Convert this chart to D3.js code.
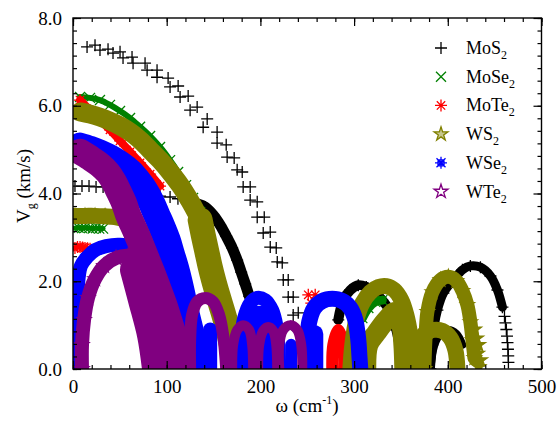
<!DOCTYPE html>
<html>
<head>
<meta charset="utf-8">
<script src="https://cdn.jsdelivr.net/npm/d3@7"></script>
<style>
body { margin: 0; background: #fff; }
</style>
</head>
<body>
<script>
// axis ticks
var xTicks = [0, 100, 200, 300, 400, 500];
var yTicks = [0, 2, 4, 6, 8];
var legendNames = ["MoS2", "MoSe2", "MoTe2", "WS2", "WSe2", "WTe2"];

// ---- MoS2 (omega cm-1, Vg km/s) ----
var mos2LAa = [[15.0,7.34],[28.8,7.27],[42.7,7.2],[53.4,7.09],[64.1,6.97],[79.1,6.81],[89.7,6.65],[103.6,6.43],[114.3,6.2],[125.0,5.9],[138.9,5.51],[153.8,5.15],[164.5,4.83],[175.2,4.54],[181.6,4.15],[189.1,3.85],[196.6,3.46],[203.0,3.1],[210.5,2.78],[218.0,2.44],[224.4,2.03],[229.7,1.64],[235.0,1.23],[239.3,0.89]];
var mos2LAb = [[23.5,7.38],[37.4,7.29],[50.2,7.23],[63.0,7.11],[76.9,6.97],[89.7,6.81],[101.5,6.63],[112.2,6.45],[122.9,6.22],[132.5,5.97],[143.2,5.7],[153.8,5.4],[163.5,5.11],[172.0,4.81],[180.6,4.49],[189.1,4.15],[196.6,3.81],[204.1,3.46],[210.5,3.12],[216.9,2.76],[223.3,2.42],[229.7,2.03],[235.0,1.64],[240.4,1.28],[244.7,0.93]];
var mos2TA = [[2.1,4.17],[9.6,4.17],[17.1,4.17],[24.6,4.15],[32.1,4.15],[39.5,4.15],[47.0,4.13],[54.5,4.01],[62.0,3.9],[71.6,3.92],[82.3,3.97],[92.9,3.94],[103.6,3.92],[112.0,3.88]];
var mos2TAband = [[119.7,3.85],[130.3,3.78],[141.0,3.69],[149.6,3.51],[157.1,3.28],[163.5,3.03],[169.9,2.76],[175.2,2.48],[179.5,2.21],[183.8,1.94],[188.0,1.66]];
var mos2Opt1 = [[283.1,1.12],[288.5,1.57],[296.0,1.8],[304.5,1.91],[313.0,1.87],[321.6,1.75],[330.1,1.57],[338.7,1.3],[345.1,0.89],[349.4,0.43]];
var mos2Opt2 = [[381.4,0],[383.5,0.55],[385.7,1.0],[388.9,1.34],[395.3,1.73],[406.0,2.03],[415.6,2.26],[424.1,2.35],[434.8,2.32],[445.5,2.12],[453.0,1.8],[458.3,1.41]];
var mos2Opt2leg = [[460.5,1.2],[461.5,1.05],[462.5,0.9],[463.2,0.75],[463.7,0.6],[464.2,0.45],[464.5,0.3],[464.7,0.15]];
var mos2Opt3 = [[381.4,0],[385.7,0.55],[392.1,0.8],[400.6,0.89],[409.2,0.8],[415.6,0.55]];

// ---- MoSe2 ----
var mose2LA = [[7.5,6.2],[18.2,6.18],[28.8,6.13],[39.5,6.02],[50.2,5.88],[60.9,5.72],[71.6,5.52],[82.3,5.31],[92.9,5.06],[103.6,4.76],[112.2,4.49],[120.7,4.19],[128.2,3.9],[135.7,3.58],[142.1,3.21],[147.4,2.83],[151.7,2.44],[156.0,2.03],[160.3,1.62],[163.5,1.23],[166.7,0.84],[169.9,0.43]];
var mose2TA = [[2.1,3.21],[6.0,3.22],[9.6,3.21],[13.0,3.22],[17.1,3.21],[21.0,3.2],[24.6,3.21],[28.0,3.2],[32.1,3.2]];
var mose2Opt1 = [[308.8,1.16],[315.2,1.39],[322.6,1.53],[330.1,1.57]];
var mose2Opt2 = [[191.2,1.16],[195.5,1.25]];

// ---- MoTe2 ----
var mote2LA = [[7.5,6.13],[18.2,5.9],[28.8,5.67],[39.5,5.45],[50.2,5.2],[60.9,4.95],[71.6,4.7],[82.3,4.44],[92.9,4.17]];
var mote2TA = [[2.1,2.76],[4.8,2.78],[7.5,2.78],[10.2,2.77],[12.8,2.76],[15.5,2.75],[18.2,2.74]];
var mote2Low = [[87.6,0.39],[89.7,0.2],[88.7,0.07]];
var mote2Cluster = [[251.1,1.69],[258.5,1.69],[254.3,1.5],[261.8,1.46],[255.3,1.3],[254.5,1.15]];
var mote2Hump = [[276.7,0],[277.8,0.55],[283.1,0.89],[288.5,0.55],[289.5,0]];

// ---- WS2 ----
var ws2LAtop = [[7.5,5.86],[18.2,5.81],[28.8,5.74],[39.5,5.65],[50.2,5.54],[60.9,5.4],[71.6,5.22],[82.3,4.99],[92.9,4.76],[103.6,4.49],[114.3,4.19],[122.9,3.9],[130.3,3.62],[135.7,3.4],[141.0,3.05]];
var ws2LAlow = [[135.7,3.4],[139.0,3.05],[142.5,2.71],[146.0,2.37],[150.0,2.03],[154.5,1.69],[160.0,1.3],[165.0,0.93],[169.0,0.55],[171.5,0.21]];
var ws2TA = [[2.1,3.49],[12.8,3.49],[23.5,3.49],[34.2,3.48],[44.9,3.46],[55.6,3.4],[66.2,3.28],[74.8,3.12],[82.3,2.89],[88.7,2.6],[95.1,2.3],[101.5,1.98]];
var ws2Arch1 = [[296.0,0],[298.1,0.55],[302.4,1.12],[308.8,1.5],[317.3,1.75],[325.9,1.87],[334.4,1.89],[342.9,1.8],[350.4,1.57],[355.8,1.23],[360.0,0.77],[362.2,0.32],[363.2,0]];
var ws2Fill1 = [[313.0,0],[315.2,0.55],[323.7,0.82],[334.4,1.12],[344.0,1.3],[350.4,1.0],[352.6,0.55],[353.6,0]];
var ws2Arch2 = [[375.0,0],[376.1,0.66],[378.2,1.3],[383.5,1.75],[392.1,2.03],[400.6,2.1],[409.2,2.01],[415.6,1.78],[420.9,1.46],[424.1,1.07],[426.3,0.66],[428.4,0.25]];
var ws2Leg2 = [[428.4,0.9],[430.6,0.7],[432.7,0.55],[431.6,0.35],[434.8,0.2],[433.0,0.05]];
var ws2Hump = [[364.3,0],[367.5,0.55],[375.0,0.8],[384.6,0.89],[394.2,0.87],[402.8,0.71],[408.1,0.43],[410.3,0]];

// ---- WSe2 ----
var wse2TA = [[3.2,0],[3.2,0.66],[4.3,1.34],[5.3,1.91],[8.5,2.35],[15.0,2.55],[23.5,2.71],[35.3,2.8],[50.2,2.83],[66.2,2.76],[82.3,2.62],[96.2,2.42]];
var wse2LA = [[7.5,5.08],[18.2,5.01],[28.8,4.92],[39.5,4.81],[50.2,4.67],[60.9,4.49],[69.4,4.28],[76.9,4.06],[83.3,3.81],[89.0,3.53],[95.0,3.24],[100.5,2.94],[105.0,2.62],[109.5,2.3],[113.5,1.96],[117.0,1.62],[120.5,1.28],[124.5,0.93],[128.5,0.59],[131.5,0.25],[133.5,0]];
var wse2Arch1 = [[178.4,0],[179.5,0.66],[182.7,1.16],[189.1,1.5],[196.6,1.62],[205.1,1.57],[212.6,1.34],[216.9,1.0],[219.0,0.55],[220.1,0]];
var wse2Fill1 = [[198.7,0],[198.7,1.1]];
var wse2Arch2 = [[248.9,0],[250.0,0.55],[252.1,1.07],[257.5,1.39],[266.0,1.55],[276.7,1.6],[287.4,1.55],[295.9,1.39],[301.3,1.12],[304.5,0.66],[305.6,0.32],[306.6,0]];
var wse2Fill2 = [[257.5,0],[257.5,0.8]];
var wse2Hole1 = [[146.4,0],[146.4,0.9]];
var wse2Hole2 = [[232.8,0],[232.8,0.55]];

// ---- WTe2 ----
var wte2LA = [[7.5,4.95],[18.2,4.81],[28.8,4.65],[37.4,4.47],[43.8,4.26],[49.1,4.03],[54.5,3.78],[58.8,3.51],[65.2,3.21],[71.6,2.89],[78.0,2.55],[84.4,2.21],[90.8,1.85],[97.2,1.48],[102.6,1.12],[107.9,0.75],[112.2,0.39],[116.5,0]];
var wte2Dome = [[9.6,0],[9.6,0.55],[11.8,1.12],[16.0,1.62],[23.5,2.05],[33.1,2.35],[45.9,2.53],[58.8,2.58],[70.5,2.48],[80.1,2.3],[86.5,2.03]];
var wte2DomeFill = [[66.2,2.26],[74.8,1.57],[84.4,0.77],[89.7,0]];
var wte2Arch1 = [[125.0,0],[125.0,0.66],[127.1,1.23],[132.5,1.53],[141.0,1.62],[149.6,1.53],[156.0,1.23],[160.3,0.77],[162.4,0.32],[163.5,0]];
var wte2Arch2 = [[169.9,0],[170.9,0.55],[175.2,0.89],[181.6,1.0],[188.0,0.89],[191.2,0.55],[192.3,0]];
var wte2Arch3 = [[197.6,0],[198.7,0.55],[203.0,0.87],[208.3,0.96],[213.7,0.87],[216.9,0.55],[217.9,0]];
var wte2Arch4 = [[220.1,0],[220.1,0.55],[224.4,0.89],[231.8,1.0],[239.3,0.89],[243.6,0.55],[244.7,0]];

// marker shapes
var starPath = d3.symbol(d3.symbolStar, 60)();
var symbols = {
    plus: "M-6,0H6M0,-6V6",
    cross: "M-5,-5L5,5M-5,5L5,-5",
    aster: "M-6,0H6M0,-6V6M-4.2,-4.2L4.2,4.2M-4.2,4.2L4.2,-4.2",
    star: starPath,
    aster2: "M-6,0H6M0,-6V6M-4.5,-4.5L4.5,4.5M-4.5,4.5L4.5,-4.5M-3,-3H3V3H-3Z",
    starOpen: starPath
};

// band = stroke width of the dense cloud, mark = draw markers
var series = [
    {color:"#000000", symbol:"plus", fill:"none", branches:[
        {data:mos2LAa, band:0, mark:1}, {data:mos2LAb, band:0, mark:1},
        {data:mos2TA, band:0, mark:1}, {data:mos2TAband, band:11, mark:1},
        {data:mos2Opt1, band:10, mark:1}, {data:mos2Opt2, band:9, mark:1},
        {data:mos2Opt2leg, band:0, mark:1}, {data:mos2Opt3, band:8, mark:0}]},
    {color:"#008000", symbol:"cross", fill:"none", branches:[
        {data:mose2LA, band:6, mark:1}, {data:mose2TA, band:5, mark:1},
        {data:mose2Opt1, band:9, mark:1}, {data:mose2Opt2, band:0, mark:1}]},
    {color:"#ff0000", symbol:"aster", fill:"none", branches:[
        {data:mote2LA, band:8, mark:1}, {data:mote2TA, band:5, mark:1},
        {data:mote2Low, band:0, mark:1}, {data:mote2Cluster, band:0, mark:1},
        {data:mote2Hump, band:12, mark:0}]},
    {color:"#808000", symbol:"star", fill:"#808000", branches:[
        {data:ws2TA, band:16, mark:1}, {data:ws2LAtop, band:19, mark:1},
        {data:ws2LAlow, band:25, mark:1}, {data:ws2Fill1, band:20, mark:0},
        {data:ws2Arch1, band:16, mark:0}, {data:ws2Hump, band:16, mark:0},
        {data:ws2Arch2, band:14, mark:1}, {data:ws2Leg2, band:0, mark:1}]},
    {color:"#0000ff", symbol:"aster2", fill:"none", branches:[
        {data:wse2TA, band:14, mark:1}, {data:wse2LA, band:27, mark:1},
        {data:wse2Arch1, band:14, mark:0}, {data:wse2Fill1, band:30, mark:0},
        {data:wse2Arch2, band:16, mark:0}, {data:wse2Fill2, band:18, mark:0},
        {data:wse2Hole1, band:14, mark:0}, {data:wse2Hole2, band:12, mark:0}]},
    {color:"#800080", symbol:"starOpen", fill:"none", branches:[
        {data:wte2Dome, band:14, mark:1}, {data:wte2DomeFill, band:30, mark:0},
        {data:wte2LA, band:26, mark:1}, {data:wte2Arch1, band:12, mark:0},
        {data:wte2Arch2, band:10, mark:0}, {data:wte2Arch3, band:10, mark:0},
        {data:wte2Arch4, band:10, mark:0}]}
];

var serif = "'Liberation Serif'";

function drawChart(){
    var svg = d3.select("body").append("svg")
        .attr("width", 557)
        .attr("height", 424);

    var x = d3.scaleLinear().domain([0, 500]).range([73, 541.5]);
    var y = d3.scaleLinear().domain([0, 8]).range([369, 18]);

    svg.append("clipPath").attr("id", "plotclip")
        .append("rect")
        .attr("x", 73).attr("y", 18)
        .attr("width", 468.5).attr("height", 351);

    var line = d3.line()
        .x(function(d){ return x(d[0]); })
        .y(function(d){ return y(d[1]); })
        .curve(d3.curveCatmullRom);

    var plot = svg.append("g").attr("clip-path", "url(#plotclip)");

    series.forEach(function(s){
        s.branches.forEach(function(br){
            if (br.band > 0) {
                plot.append("path")
                    .datum(br.data)
                    .attr("d", line)
                    .attr("fill", "none")
                    .attr("stroke", s.color)
                    .attr("stroke-width", br.band)
                    .attr("stroke-linecap", "round")
                    .attr("stroke-linejoin", "round");
            }
            if (br.mark) {
                plot.selectAll(null)
                    .data(br.data)
                    .enter()
                    .append("path")
                    .attr("transform", function(d){ return "translate(" + x(d[0]) + "," + y(d[1]) + ")"; })
                    .attr("d", symbols[s.symbol])
                    .attr("fill", s.fill)
                    .attr("stroke", s.color)
                    .attr("stroke-width", 1.3);
            }
        });
    });

    // axes, ticks pointing inward on all four sides
    var xMinor = d3.range(0, 501, 20);
    var yMinor = d3.range(0, 8.001, 2 / 7);

    function styleAxis(g){
        g.attr("font-family", null).attr("font-size", null);
        g.select(".domain").remove();
        g.selectAll("line").attr("stroke", "#000").attr("stroke-width", 1.2);
        g.selectAll("text").attr("fill", "#000")
            .style("font-family", serif)
            .style("font-size", "19px");
    }

    svg.append("g").attr("transform", "translate(0,369)")
        .call(d3.axisBottom(x).tickValues(xMinor).tickSize(-4).tickFormat(""))
        .call(styleAxis);
    svg.append("g").attr("transform", "translate(0,369)")
        .call(d3.axisBottom(x).tickValues(xTicks).tickSize(-8).tickPadding(11).tickFormat(d3.format("d")))
        .call(styleAxis);
    svg.append("g").attr("transform", "translate(0,18)")
        .call(d3.axisTop(x).tickValues(xMinor).tickSize(-4).tickFormat(""))
        .call(styleAxis);
    svg.append("g").attr("transform", "translate(0,18)")
        .call(d3.axisTop(x).tickValues(xTicks).tickSize(-8).tickFormat(""))
        .call(styleAxis);

    svg.append("g").attr("transform", "translate(73,0)")
        .call(d3.axisLeft(y).tickValues(yMinor).tickSize(-4).tickFormat(""))
        .call(styleAxis);
    svg.append("g").attr("transform", "translate(73,0)")
        .call(d3.axisLeft(y).tickValues(yTicks).tickSize(-8).tickPadding(11).tickFormat(d3.format(".1f")))
        .call(styleAxis);
    svg.append("g").attr("transform", "translate(541.5,0)")
        .call(d3.axisRight(y).tickValues(yMinor).tickSize(-4).tickFormat(""))
        .call(styleAxis);
    svg.append("g").attr("transform", "translate(541.5,0)")
        .call(d3.axisRight(y).tickValues(yTicks).tickSize(-8).tickFormat(""))
        .call(styleAxis);

    svg.append("rect")
        .attr("x", 73).attr("y", 18)
        .attr("width", 468.5).attr("height", 351)
        .attr("fill", "none").attr("stroke", "#000").attr("stroke-width", 1.4);

    // axis titles
    var xt = svg.append("text")
        .attr("x", 307).attr("y", 412)
        .attr("text-anchor", "middle")
        .style("font-family", serif)
        .style("font-size", "19px");
    xt.append("tspan").text("\u03c9 (cm");
    xt.append("tspan").style("font-size", "12px").attr("dy", -8).text("-1");
    xt.append("tspan").attr("dy", 8).text(")");

    var yt = svg.append("text")
        .attr("transform", "translate(30,186) rotate(-90)")
        .attr("text-anchor", "middle")
        .style("font-family", serif)
        .style("font-size", "19px");
    yt.append("tspan").text("V");
    yt.append("tspan").style("font-size", "12px").attr("dy", 5).text("g");
    yt.append("tspan").attr("dy", -5).text(" (km/s)");

    // legend
    var legend = svg.append("g");
    legendNames.forEach(function(name, i){
        var s = series[i];
        var cy = 48 + i * 28.7;
        legend.append("path")
            .attr("transform", "translate(441," + cy + ")")
            .attr("d", symbols[s.symbol])
            .attr("fill", s.fill === "none" ? "none" : s.color)
            .attr("fill-opacity", 0.45)
            .attr("stroke", s.color)
            .attr("stroke-width", 1.3);
        var t = legend.append("text")
            .attr("x", 466).attr("y", cy + 6)
            .style("font-family", serif)
            .style("font-size", "18px");
        t.append("tspan").text(name.slice(0, -1));
        t.append("tspan").style("font-size", "12px").attr("dy", 5).text(name.slice(-1));
    });
}

drawChart();
</script>
</body>
</html>
